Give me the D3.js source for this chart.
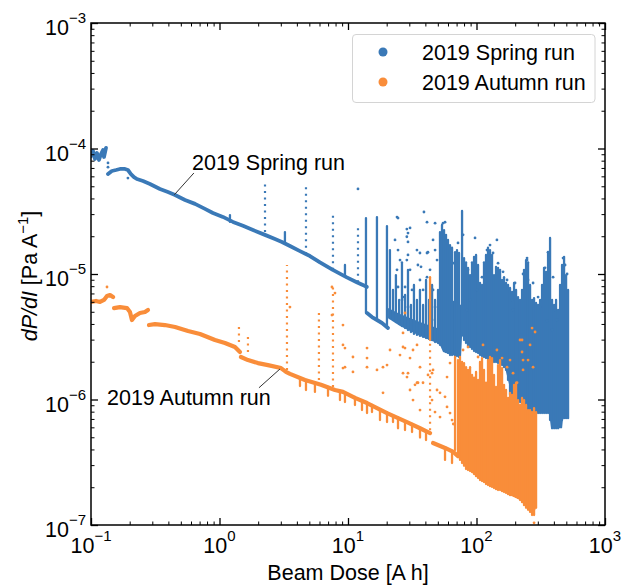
<!DOCTYPE html>
<html>
<head>
<meta charset="utf-8">
<script src="https://cdn.jsdelivr.net/npm/d3@7"></script>
<style>
  body { margin: 0; background: #fff; }
  text { font-family: "Liberation Sans", Arial, sans-serif; fill: #000; }
</style>
</head>
<body>
<svg id="chart" width="631" height="586"></svg>
<script>
// ---- Data: beam dose [A h] vs dP/dI [Pa/A] ----
const seriesNames = ["2019 Spring run", "2019 Autumn run"];
const xMajorTicks = [0.1, 1, 10, 100, 1000];
const yMajorTicks = [1e-7, 1e-6, 1e-5, 1e-4, 1e-3];

// Spring run: trend segments [dose, value]
const springLeft = [[0.100,8.72e-5],[0.1037,9.56e-5],[0.1074,8.25e-5],[0.1113,9.2e-5],[0.1154,8.1e-5],[0.1196,9.04e-5],[0.124,9.73e-5],[0.1262,8.56e-5],[0.1308,1.01e-4]];
const springMain = [[0.1356,6.26e-5],[0.1453,6.62e-5],[0.1566,6.74e-5],[0.168,6.87e-5],[0.1838,6.87e-5],[0.1938,6.74e-5],[0.2045,6.26e-5],[0.216,5.92e-5],[0.2277,5.71e-5],[0.254,5.51e-5],[0.2877,5.22e-5],[0.344,4.76e-5],[0.397,4.50e-5],[0.451,4.26e-5],[0.539,3.89e-5],[0.645,3.62e-5],[0.771,3.30e-5],[0.889,3.06e-5],[1.063,2.85e-5],[1.273,2.60e-5],[1.523,2.42e-5],[1.822,2.24e-5],[2.258,2.05e-5],[2.702,1.90e-5],[3.063,1.80e-5],[3.535,1.67e-5],[4.229,1.52e-5],[5.059,1.39e-5],[6.052,1.24e-5],[7.62,1.08e-5],[9.79,9.4e-6],[11.7,8.6e-6],[14.0,7.9e-6]];
const springTail = [[14.06,4.89e-6],[15.37,4.54e-6],[16.81,4.30e-6],[18.39,4.07e-6],[20.48,3.71e-6]];
// Spring run: dense core band [dose, low, high]
const springCore = [[20.5,4.45e-6,5.35e-6],[25.4,3.85e-6,4.80e-6],[36.3,3.21e-6,4.14e-6],[49.3,2.82e-6,3.71e-6],[52.0,2.72e-6,5.66e-6],[54.9,2.39e-6,6.21e-6],[64.5,2.26e-6,6.21e-6],[75.8,2.18e-6,5.66e-6],[77.2,3.21e-6,6.21e-6],[89.1,2.62e-6,5.66e-6],[106.5,2.26e-6,5.35e-6],[127.4,2.06e-6,5.17e-6],[152.5,1.95e-6,4.30e-6],[166.8,1.78e-6,3.27e-6],[176.0,1.43e-6,2.72e-6],[189.1,1.03e-6,2.48e-6],[218.2,9.55e-7,2.48e-6],[261.1,8.24e-7,2.48e-6],[312.3,7.80e-7,2.26e-6],[367.0,7.80e-7,2.06e-6],[380.5,5.9e-7,1.72e-6],[463.3,5.9e-7,1.72e-6],[471.7,7.1e-7,2.06e-6],[516.0,7.1e-7,2.06e-6]];
// Spring run: bursts spanning a range of values [dose, low, high]
const springSpikes = [[1.206,2.6e-5,2.95e-5],[3.23,1.77e-5,2.16e-5],[9.47,9.8e-6,1.18e-5],
  [13.8,4.89e-6,2.79e-5],[16.8,4.30e-6,2.84e-5],[20.1,3.78e-6,2.41e-5],
  [21.2,4.45e-6,1.55e-5],[22.4,4.30e-6,7.46e-6],[23.6,4.14e-6,9.8e-6],[25.0,3.99e-6,6.21e-6],[26.3,3.85e-6,1.24e-5],[27.8,3.71e-6,6.80e-6],[29.3,3.58e-6,1.08e-5],[30.9,3.45e-6,5.66e-6],[32.6,3.33e-6,8.17e-6],[34.4,3.27e-6,6.21e-6],[36.3,3.21e-6,7.46e-6],[38.4,3.15e-6,5.66e-6],[40.5,3.09e-6,8.96e-6],[42.7,3.04e-6,6.21e-6],[45.1,2.98e-6,8.17e-6],[47.6,2.87e-6,6.21e-6],[50.2,2.82e-6,7.46e-6],
  [52.0,2.72e-6,2.16e-5],[53.9,2.67e-6,2.46e-5],[55.9,2.48e-6,2.24e-5],[57.9,2.39e-6,2.05e-5],[60.0,2.35e-6,1.87e-5],[62.2,2.26e-6,1.70e-5],[64.5,2.26e-6,1.62e-5],[68.1,2.22e-6,1.49e-5],[70.5,2.22e-6,1.55e-5],[73.1,2.18e-6,1.47e-5],[77.2,3.27e-6,3.18e-5],[80.0,2.98e-6,1.34e-5],[82.9,2.82e-6,1.24e-5],[85.9,2.67e-6,1.12e-5],[89.1,2.62e-6,9.8e-6],[92.3,2.53e-6,1.24e-5],[95.7,2.43e-6,1.37e-5],[99.2,2.39e-6,1.42e-5],[102.8,2.35e-6,1.18e-5],[106.5,2.26e-6,8.48e-6],[110.4,2.22e-6,8.17e-6],[114.4,2.18e-6,1.24e-5],[118.6,2.14e-6,1.42e-5],[122.9,2.10e-6,1.62e-5],[127.4,2.06e-6,1.55e-5],[132.1,2.02e-6,1.42e-5],[136.9,1.99e-6,9.8e-6],[141.9,1.99e-6,1.14e-5],[147.1,1.95e-6,1.12e-5],[152.5,1.95e-6,1.08e-5],[158.1,1.88e-6,8.96e-6],[163.8,1.81e-6,9.44e-6],[169.8,1.72e-6,8.48e-6],[176.0,1.43e-6,8.17e-6],[182.4,1.09e-6,7.74e-6],[189.1,1.03e-6,7.19e-6],[196.0,9.9e-7,8.48e-6],[203.1,9.72e-7,7.46e-6],[210.5,9.55e-7,6.55e-6],[218.2,9.55e-7,6.21e-6],[226.2,9.2e-7,7.46e-6],[234.4,8.87e-7,1.08e-5],[243.0,8.55e-7,1.29e-5],[251.9,8.24e-7,1.24e-5],[261.1,8.24e-7,8.17e-6],[270.6,8.09e-7,6.21e-6],[280.5,7.94e-7,6.43e-6],[290.8,7.94e-7,5.88e-6],[301.4,7.80e-7,5.66e-6],[312.3,7.80e-7,6.21e-6],[323.7,7.80e-7,8.17e-6],[335.5,7.80e-7,1.12e-5],[347.8,7.80e-7,1.04e-5],[360.5,7.80e-7,1.49e-5],[373.7,6.86e-7,1.94e-5],[387.3,5.9e-7,6.21e-6],[401.5,5.9e-7,5.66e-6],[416.1,5.9e-7,6.21e-6],[431.3,5.9e-7,5.17e-6],[447.0,6.26e-7,8.17e-6],[463.3,6.86e-7,1.18e-5],[480.2,7.1e-7,1.37e-5],[497.9,7.1e-7,9.8e-6],[516.0,7.1e-7,7.46e-6]];
// Spring run: sparse columns of readings [dose, low, high]
const springColumns = [[2.26,2.16e-5,5.31e-5],[4.71,1.44e-5,4.94e-5],[7.64,1.08e-5,3.12e-5],[11.96,8.6e-6,2.37e-5]];
// Spring run: isolated readings [dose, value]
const springDots = [[0.1356,7.67e-5],[0.1356,7.1e-5],[0.1938,5.81e-5],[11.96,4.76e-5],
  [24.07,2.84e-5],[23.22,1.87e-5],[24.5,1.55e-5],[25.4,1.29e-5],[24.07,1.08e-5],[24.5,7.88e-6],[26.3,6.21e-6],[30.4,2.33e-5],[29.3,2.12e-5],[29.3,1.80e-5],[28.7,1.29e-5],[30.4,1.08e-5],[27.8,7.88e-6],[29.3,5.45e-6],
  [39.0,3.12e-5],[36.3,1.47e-5],[41.2,1.47e-5],[37.0,1.14e-5],[41.2,9.44e-6],[38.4,7.46e-6],[41.2,2.59e-5],[47.6,2.54e-5],[45.9,1.87e-5],[47.6,1.55e-5],[49.3,1.29e-5],[26.8,6.55e-6],[29.3,1.42e-5],[31.5,7.46e-6],[34.4,1.55e-5],[35.0,1.18e-5],[36.3,8.96e-6],[41.9,1.49e-5],[43.5,1.08e-5],[45.9,7.46e-6],[47.6,5.45e-6],[45.1,4.30e-6],[54.9,2.54e-5],[28.7,1.98e-5],[24.5,2.79e-5],[28.7,2.28e-5],[56.9,2.59e-5],
  [66.0,1.22e-5],[71.8,1.77e-5],[78.6,2.05e-5],[85.9,1.08e-5],[92.3,9.8e-6],[97.4,1.94e-5],[120.7,1.55e-5],[127.4,1.70e-5],[134.5,1.47e-5],[147.1,1.22e-5],[144.2,1.87e-5],[160.9,1.04e-5],[172.9,8.96e-6],[199.5,8.48e-6],[189.1,6.21e-6],[192.5,5.17e-6],[230.3,1.0e-5],[247.4,1.29e-5],[247.4,1.34e-5],[251.9,8.96e-6],[275.6,8.48e-6],[301.4,6.55e-6],[312.3,5.45e-6],[341.6,1.12e-5],[360.5,1.49e-5],[394.4,9.44e-6],[408.7,5.17e-6],[423.7,4.30e-6],[471.7,1.34e-5],[489.0,1.18e-5],[507.0,1.0e-5],[354.1,4.22e-6],[387.3,3.58e-6],[110.4,9.44e-6],[101.1,7.46e-6],[89.1,6.21e-6],[84.3,5.17e-6]];

// Autumn run: trend segments [dose, value]
const autumnStart = [[0.100,5.99e-6],[0.1094,6.10e-6],[0.1175,5.99e-6],[0.1262,6.21e-6],[0.1332,6.68e-6],[0.1406,6.80e-6],[0.1484,6.55e-6]];
const autumnStep = [[0.1511,5.35e-6],[0.168,5.45e-6],[0.1905,5.35e-6],[0.201,4.98e-6],[0.2083,4.30e-6],[0.2199,4.62e-6],[0.2405,4.89e-6],[0.263,4.98e-6],[0.2776,5.17e-6]];
const autumnMid = [[0.2826,3.92e-6],[0.3147,3.99e-6],[0.376,3.92e-6],[0.451,3.78e-6],[0.5688,3.51e-6],[0.705,3.33e-6],[0.922,2.98e-6],[1.103,2.82e-6],[1.319,2.62e-6],[1.443,2.39e-6]];
const autumnMain = [[1.469,2.18e-6],[1.665,2.06e-6],[1.991,1.95e-6],[2.383,1.88e-6],[3.009,1.78e-6],[3.29,1.66e-6],[3.535,1.60e-6],[4.625,1.43e-6],[6.16,1.31e-6],[7.919,1.19e-6],[9.14,1.15e-6],[11.33,1.03e-6],[14.06,9.37e-7],[20.12,7.80e-7],[28.78,6.61e-7],[36.34,5.9e-7],[43.48,5.40e-7]];
const autumnLate = [[45.9,4.50e-7],[56.89,4.11e-7],[66.0,3.82e-7],[71.8,3.54e-7]];
// Autumn run: dense core band [dose, low, high]
const autumnCore = [[71.8,3.48e-7,6.86e-7],[89.1,2.69e-7,6.26e-7],[106.5,2.28e-7,5.71e-7],[127.4,2.04e-7,5.21e-7],[152.5,1.90e-7,4.75e-7],[182.4,1.73e-7,3.96e-7],[218.2,1.58e-7,3.61e-7],[261.1,1.27e-7,3.30e-7],[275.6,1.20e-7,3.01e-7],[290.8,1.37e-7,3.01e-7]];
// Autumn run: bursts spanning a range of values [dose, low, high]
const autumnSpikes = [[43.5,2.98e-6,9.44e-6],[68.1,3.96e-7,2.18e-6],
  [4.23,1.28e-6,1.51e-6],[4.71,1.19e-6,1.43e-6],[5.53,1.15e-6,1.36e-6],[6.99,1.07e-6,1.26e-6],[8.66,9.9e-7,1.17e-6],[9.47,9.55e-7,1.13e-6],[11.33,9.04e-7,1.05e-6],[12.85,8.24e-7,9.9e-7],[14.06,7.8e-7,9.4e-7],[15.37,7.94e-7,9.04e-7],[17.74,6.86e-7,8.39e-7],[20.12,6.61e-7,7.94e-7],[22.40,6.61e-7,7.52e-7],[24.5,5.9e-7,7.24e-7],[27.77,5.71e-7,6.73e-7],[31.5,5.5e-7,6.38e-7],[36.34,4.98e-7,5.9e-7],[40.47,4.75e-7,5.6e-7],[56.89,3.30e-7,4.18e-7],[64.5,3.12e-7,3.89e-7],
  [71.8,3.48e-7,2.06e-6],[74.4,3.30e-7,2.18e-6],[77.2,3.12e-7,1.99e-6],[80.0,2.96e-7,1.95e-6],[82.9,2.79e-7,1.81e-6],[85.9,2.74e-7,1.72e-6],[89.1,2.69e-7,1.81e-6],[92.3,2.64e-7,1.57e-6],[95.7,2.55e-7,1.49e-6],[99.2,2.45e-7,1.66e-6],[102.8,2.37e-7,1.43e-6],[106.5,2.28e-7,1.99e-6],[110.4,2.24e-7,2.14e-6],[114.4,2.20e-7,1.72e-6],[118.6,2.12e-7,1.36e-6],[122.9,2.08e-7,2.06e-6],[127.4,2.04e-7,2.18e-6],[132.1,2.01e-7,2.14e-6],[136.9,1.97e-7,1.57e-6],[141.9,1.93e-7,1.26e-6],[147.1,1.90e-7,1.88e-6],[152.5,1.90e-7,2.06e-6],[158.1,1.86e-7,1.78e-6],[163.8,1.83e-7,1.31e-6],[169.8,1.80e-7,1.19e-6],[176.0,1.76e-7,1.03e-6],[182.4,1.73e-7,1.13e-6],[189.1,1.73e-7,1.09e-6],[196.0,1.70e-7,1.31e-6],[203.1,1.67e-7,1.36e-6],[210.5,1.64e-7,9.9e-7],[218.2,1.58e-7,9.04e-7],[226.2,1.52e-7,1.03e-6],[234.4,1.44e-7,9.9e-7],[243.0,1.37e-7,9.04e-7],[251.9,1.32e-7,8.24e-7],[261.1,1.27e-7,8.24e-7],[270.6,1.20e-7,7.94e-7],[280.5,1.20e-7,8.55e-7],[290.8,1.37e-7,7.94e-7]];
// Autumn run: sparse columns of readings [dose, low, high]
const autumnColumns = [[3.35,1.72e-6,1.18e-5],[1.417,2.87e-6,4.06e-6],[1.665,2.39e-6,3.39e-6],[5.94,1.43e-6,5.17e-6],[7.64,1.26e-6,7.88e-6],[43.5,5.7e-7,2.98e-6]];
// Autumn run: isolated readings [dose, value]
const autumnDots = [[0.1332,7.88e-6],[3.535,5.45e-6],[7.50,7.88e-6],[7.92,7.05e-6],[7.50,4.71e-6],[9.14,3.92e-6],[9.14,2.72e-6],[9.14,1.78e-6],[10.93,2.18e-6],[10.93,1.66e-6],[14.06,2.57e-6],[14.06,2.14e-6],[14.06,1.81e-6],[16.81,1.72e-6],[20.12,1.88e-6],[21.23,2.48e-6],[25.39,2.26e-6],[26.8,3.39e-6],[26.8,2.62e-6],[28.78,1.51e-6],[30.38,1.19e-6],[32.06,2.48e-6],[34.44,2.72e-6],[36.34,1.81e-6],[34.44,1.36e-6],[38.35,1.36e-6],[49.29,1.19e-6],[58.97,1.51e-6],[62.22,1.95e-6],[64.5,6.86e-7],[58.97,8.72e-7],[27.77,4.89e-6],[26.8,1.62e-6],[32.06,9.9e-7],[35.07,1.36e-6],[45.07,1.62e-6],[52.01,1.13e-6],[62.22,7.80e-7],
  [218.2,2.98e-6],[226.2,2.39e-6],[230.3,1.72e-6],[270.6,3.71e-6],[285.6,3.45e-6],[275.6,1.81e-6],[251.9,2.06e-6],[230.3,2.06e-6],[261.1,2.72e-6],[226.2,2.98e-6],[206.8,1.36e-6],[45.9,1.72e-6],[45.07,9.9e-7],[52.01,7.24e-7],[56.89,1.05e-6],[66.0,6.38e-7],[9.47,2.57e-6],[9.47,1.81e-6],[18.72,1.81e-6],[18.72,1.13e-6],[27.77,2.57e-6],[29.31,1.62e-6],[30.38,2.14e-6],[33.23,1.31e-6],[36.34,8.24e-7],[41.95,1.57e-6],[47.55,7.94e-7],
  [78.6,2.48e-6],[85.9,2.62e-6],[102.8,2.18e-6],[112.4,2.72e-6],[144.2,2.48e-6],[158.1,2.14e-6],[172.9,1.81e-6],[192.5,1.62e-6],[182.4,2.06e-6],[280.5,1.04e-7]];

// Callouts: [label, text dose, text value, line start dose, line start value, target dose, target value]
const callouts = [
  ["2019 Spring run", 0.611, 6.74e-5, 0.632, 6.38e-5, 0.445, 4.28e-5],
  ["2019 Autumn run", 0.1332, 9.04e-7, 2.028, 1.24e-6, 2.955, 1.75e-6]
];

// ---- Layout ----
const svg = d3.select("#chart");
const frame = { left: 91, top: 23, right: 605, bottom: 525 };
const colors = ["#3a79b7", "#f98d3a"];
const fontSize = 21.5;

const x = d3.scaleLog().domain([0.1, 1000]).range([frame.left, frame.right]);
const y = d3.scaleLog().domain([1e-7, 1e-3]).range([frame.bottom, frame.top]);

svg.append("rect").attr("width", 631).attr("height", 586).attr("fill", "#fff");

svg.append("clipPath").attr("id", "plot-clip")
  .append("rect")
  .attr("x", frame.left).attr("y", frame.top)
  .attr("width", frame.right - frame.left).attr("height", frame.bottom - frame.top);

const plot = svg.append("g").attr("clip-path", "url(#plot-clip)");

function drawSeries(color, s) {
  const g = plot.append("g");
  g.append("path").datum(s.core)
    .attr("d", d3.area().x(d => x(d[0])).y0(d => y(d[1])).y1(d => y(d[2])))
    .attr("fill", color);
  s.trend.forEach(seg => {
    g.append("path").datum(seg)
      .attr("d", d3.line().x(d => x(d[0])).y(d => y(d[1])))
      .attr("fill", "none").attr("stroke", color)
      .attr("stroke-width", s.trendWidth)
      .attr("stroke-linejoin", "round").attr("stroke-linecap", "round");
  });
  g.selectAll(null).data(s.columns).join("line")
    .attr("x1", d => x(d[0])).attr("x2", d => x(d[0]))
    .attr("y1", d => y(d[1])).attr("y2", d => y(d[2]))
    .attr("stroke", color).attr("stroke-width", 2.2)
    .attr("stroke-dasharray", "2,4.5");
  g.selectAll(null).data(s.spikes).join("line")
    .attr("x1", d => x(d[0])).attr("x2", d => x(d[0]))
    .attr("y1", d => y(d[1])).attr("y2", d => y(d[2]))
    .attr("stroke", color).attr("stroke-width", 2.3)
    .attr("stroke-linecap", "round");
  g.selectAll(null).data(s.dots).join("circle")
    .attr("cx", d => x(d[0])).attr("cy", d => y(d[1]))
    .attr("r", 1.4).attr("fill", color);
}

drawSeries(colors[0], {
  core: springCore, trend: [springLeft, springMain, springTail], trendWidth: 3.8,
  columns: springColumns, spikes: springSpikes, dots: springDots
});
drawSeries(colors[1], {
  core: autumnCore, trend: [autumnStart, autumnStep, autumnMid, autumnMain, autumnLate], trendWidth: 4.2,
  columns: autumnColumns, spikes: autumnSpikes, dots: autumnDots
});

// ---- Axes: ticks pointing inward on all four sides ----
const decadesX = [0.1, 1, 10, 100];
const decadesY = [1e-7, 1e-6, 1e-5, 1e-4];
const minorX = decadesX.flatMap(d => d3.range(2, 10).map(k => d * k));
const minorY = decadesY.flatMap(d => d3.range(2, 10).map(k => d * k));

function tickLayer(axisFn, scale, values, size, transform, width) {
  svg.append("g").attr("transform", transform)
    .call(axisFn(scale).tickValues(values).tickSize(-size).tickSizeOuter(0).tickFormat(""))
    .call(g => g.select(".domain").remove())
    .call(g => g.selectAll("line").attr("stroke", "#000").attr("stroke-width", width));
}
tickLayer(d3.axisBottom, x, xMajorTicks, 7, `translate(0,${frame.bottom})`, 1.3);
tickLayer(d3.axisBottom, x, minorX, 3.5, `translate(0,${frame.bottom})`, 1);
tickLayer(d3.axisTop, x, xMajorTicks, 7, `translate(0,${frame.top})`, 1.3);
tickLayer(d3.axisTop, x, minorX, 3.5, `translate(0,${frame.top})`, 1);
tickLayer(d3.axisLeft, y, yMajorTicks, 7, `translate(${frame.left},0)`, 1.3);
tickLayer(d3.axisLeft, y, minorY, 3.5, `translate(${frame.left},0)`, 1);
tickLayer(d3.axisRight, y, yMajorTicks, 7, `translate(${frame.right},0)`, 1.3);
tickLayer(d3.axisRight, y, minorY, 3.5, `translate(${frame.right},0)`, 1);

svg.append("rect")
  .attr("x", frame.left).attr("y", frame.top)
  .attr("width", frame.right - frame.left).attr("height", frame.bottom - frame.top)
  .attr("fill", "none").attr("stroke", "#000").attr("stroke-width", 1.5);

function powerLabel(sel, v) {
  const e = Math.round(Math.log10(v));
  sel.append("tspan").text("10");
  sel.append("tspan").attr("dy", -12).attr("font-size", 15)
    .text(e < 0 ? "\u2212" + Math.abs(e) : String(e));
}

svg.append("g").selectAll("text").data(xMajorTicks).join("text")
  .attr("x", d => x(d)).attr("y", 553)
  .attr("text-anchor", "middle").attr("font-size", fontSize)
  .each(function (d) { powerLabel(d3.select(this), d); });

svg.append("g").selectAll("text").data(yMajorTicks).join("text")
  .attr("x", 86).attr("y", d => y(d) + 12)
  .attr("text-anchor", "end").attr("font-size", fontSize)
  .each(function (d) { powerLabel(d3.select(this), d); });

// Axis titles
svg.append("text")
  .attr("x", (frame.left + frame.right) / 2).attr("y", 580)
  .attr("text-anchor", "middle").attr("font-size", fontSize)
  .text("Beam Dose [A h]");

const yTitle = svg.append("text")
  .attr("transform", "translate(37,276) rotate(-90)")
  .attr("text-anchor", "middle").attr("font-size", fontSize);
yTitle.append("tspan").attr("font-style", "italic").text("dP/dI");
yTitle.append("tspan").text(" [Pa A");
yTitle.append("tspan").attr("dy", -9).attr("font-size", 15).text("\u22121");
yTitle.append("tspan").attr("dy", 9).text("]");

// ---- Callouts ----
callouts.forEach(c => {
  svg.append("line")
    .attr("x1", x(c[3])).attr("y1", y(c[4]))
    .attr("x2", x(c[5])).attr("y2", y(c[6]))
    .attr("stroke", "#333").attr("stroke-width", 1);
  svg.append("text")
    .attr("x", x(c[1])).attr("y", y(c[2]))
    .attr("font-size", fontSize).text(c[0]);
});

// ---- Legend ----
const legend = svg.append("g");
legend.append("rect")
  .attr("x", 352.5).attr("y", 34.5).attr("width", 242.5).attr("height", 68)
  .attr("rx", 3.5).attr("fill", "#fff").attr("fill-opacity", 0.8)
  .attr("stroke", "#d4d4d4").attr("stroke-width", 1);
seriesNames.forEach((name, i) => {
  const cy = 52 + i * 30;
  legend.append("circle").attr("cx", 383).attr("cy", cy).attr("r", 4.5).attr("fill", colors[i]);
  legend.append("text").attr("x", 422).attr("y", cy + 7.5).attr("font-size", fontSize).text(name);
});
</script>
</body>
</html>
